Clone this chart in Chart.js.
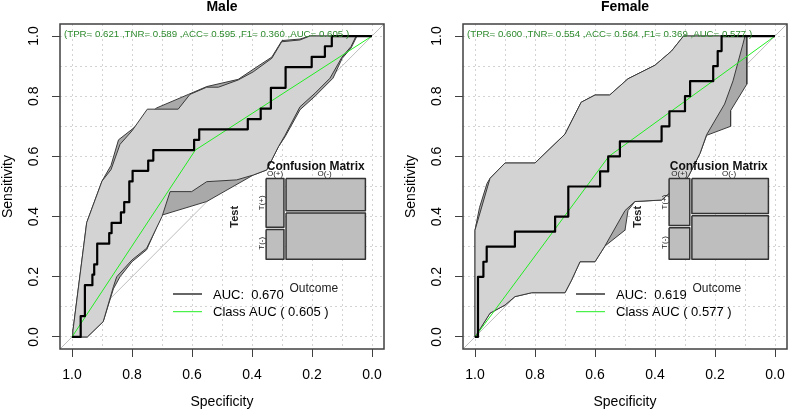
<!DOCTYPE html>
<html>
<head>
<meta charset="utf-8">
<script src="https://cdn.jsdelivr.net/npm/chart.js@4.4.1/dist/chart.umd.min.js"></script>
<style>
  html, body { margin: 0; padding: 0; background: #fff; }
  #wrap { position: relative; width: 789px; height: 411px; }
  canvas { position: absolute; top: 0; }
  #male { left: 0; }
  #female { left: 395px; }
</style>
</head>
<body>
<div id="wrap">
  <canvas id="male" width="395" height="411"></canvas>
  <canvas id="female" width="394" height="411"></canvas>
</div>
<script>
// axis ticks (specificity runs 1 -> 0, sensitivity 0 -> 1)
const gridValues = [0, 0.1, 0.2, 0.3, 0.4, 0.5, 0.6, 0.7, 0.8, 0.9, 1.0];
const labelledValues = [0, 0.2, 0.4, 0.6, 0.8, 1.0];
const statNames = ['TPR', 'TNR', 'ACC', 'F1', 'AUC'];
const chanceLine = [[1.04, -0.04], [-0.04, 1.04]];

// ---- Male ----
const maleStats = [0.621, 0.589, 0.595, 0.360, 0.605];
const maleAuc = 0.670;
const maleConfusion = [18, 11, 53, 76]; // TP, FN, FP, TN
const maleRoc = [[1,0],[0.971,0],[0.971,0.069],[0.957,0.069],[0.957,0.172],[0.932,0.172],[0.932,0.207],
  [0.926,0.207],[0.926,0.241],[0.916,0.241],[0.916,0.310],[0.876,0.310],[0.876,0.345],[0.868,0.345],
  [0.868,0.379],[0.837,0.379],[0.837,0.414],[0.826,0.414],[0.826,0.448],[0.809,0.448],[0.809,0.517],
  [0.798,0.517],[0.798,0.552],[0.746,0.552],[0.746,0.586],[0.729,0.586],[0.729,0.621],[0.593,0.621],
  [0.593,0.655],[0.576,0.655],[0.576,0.690],[0.414,0.690],[0.414,0.724],[0.371,0.724],[0.371,0.759],
  [0.337,0.759],[0.337,0.828],[0.288,0.828],[0.288,0.897],[0.201,0.897],[0.201,0.931],[0.157,0.931],
  [0.157,0.966],[0.134,0.966],[0.134,1],[0,1]];
const maleClassRoc = [[1,0],[0.589,0.621],[0,1]];
const maleBandUpper = [[1,0],[0.997,0.02],[0.951,0.38],[0.90,0.518],[0.87,0.556],[0.84,0.64],[0.80,0.685],
  [0.749,0.757],[0.646,0.757],[0.607,0.806],[0.551,0.83],[0.512,0.83],[0.446,0.854],[0.396,0.881],
  [0.334,0.926],[0.301,0.981],[0.24,0.987],[0.207,1],[0,1]];
const maleBandLower = [[1,0],[0.949,0],[0.896,0.051],[0.862,0.167],[0.851,0.2],[0.80,0.256],[0.751,0.295],
  [0.70,0.40],[0.673,0.483],[0.601,0.483],[0.551,0.516],[0.451,0.522],[0.396,0.538],[0.351,0.555],
  [0.312,0.632],[0.29,0.67],[0.24,0.765],[0.19,0.81],[0.14,0.86],[0.10,0.93],[0.07,0.965],[0.053,1],[0,1]];
const maleOuterUpper = [[1,0],[0.997,0.02],[0.951,0.38],[0.90,0.518],[0.87,0.57],[0.845,0.655],[0.80,0.69],
  [0.718,0.761],[0.612,0.806],[0.551,0.832],[0.446,0.856],[0.38,0.90],[0.334,0.93],[0.30,0.985],
  [0.24,0.99],[0.207,1],[0,1]];
const maleOuterLower = [[1,0],[0.949,0],[0.896,0.051],[0.862,0.16],[0.84,0.2],[0.80,0.25],[0.751,0.29],
  [0.70,0.405],[0.551,0.45],[0.396,0.538],[0.351,0.555],[0.312,0.632],[0.29,0.665],[0.24,0.755],
  [0.19,0.80],[0.13,0.86],[0.10,0.925],[0.07,0.96],[0.05,1],[0,1]];

// ---- Female ----
const femaleStats = [0.600, 0.554, 0.564, 0.369, 0.577];
const femaleAuc = 0.619;
const femaleConfusion = [12, 8, 33, 41]; // TP, FN, FP, TN
const femaleRoc = [[1,0],[0.99,0],[0.99,0.2],[0.972,0.2],[0.972,0.25],[0.961,0.25],[0.961,0.3],[0.867,0.3],
  [0.867,0.35],[0.733,0.35],[0.733,0.4],[0.689,0.4],[0.689,0.5],[0.583,0.5],[0.583,0.55],[0.556,0.55],
  [0.556,0.6],[0.517,0.6],[0.517,0.65],[0.378,0.65],[0.378,0.7],[0.352,0.7],[0.352,0.75],[0.30,0.75],
  [0.30,0.8],[0.283,0.8],[0.283,0.85],[0.206,0.85],[0.206,0.9],[0.191,0.9],[0.191,0.95],[0.178,0.95],
  [0.178,1],[0,1]];
const femaleClassRoc = [[1,0],[0.554,0.6],[0,1]];
const femaleBandUpper = [[1,0],[1,0.355],[0.95,0.527],[0.90,0.578],[0.80,0.578],[0.70,0.674],[0.646,0.78],
  [0.60,0.804],[0.551,0.804],[0.49,0.858],[0.40,0.903],[0.345,0.95],[0.305,1],[0,1]];
const femaleBandLower = [[1,0],[0.95,0.079],[0.90,0.106],[0.867,0.134],[0.811,0.147],[0.70,0.147],
  [0.678,0.189],[0.65,0.25],[0.60,0.25],[0.567,0.302],[0.50,0.42],[0.467,0.45],[0.378,0.455],
  [0.289,0.533],[0.25,0.61],[0.228,0.672],[0.168,0.774],[0.14,0.851],[0.107,0.973],[0.10,1],[0,1]];
const femaleOuterUpper = [[1,0],[1,0.355],[0.985,0.43],[0.96,0.51],[0.95,0.527],[0.90,0.578],[0.80,0.578],
  [0.70,0.674],[0.646,0.78],[0.60,0.804],[0.551,0.804],[0.49,0.858],[0.40,0.903],[0.345,0.95],[0.305,1],[0,1]];
const femaleOuterLower = [[1,0],[0.95,0.079],[0.90,0.106],[0.867,0.134],[0.811,0.147],[0.70,0.147],
  [0.678,0.189],[0.65,0.25],[0.60,0.25],[0.567,0.302],[0.50,0.355],[0.49,0.42],[0.467,0.45],[0.378,0.455],
  [0.289,0.533],[0.25,0.61],[0.228,0.67],[0.148,0.70],[0.148,0.752],[0.094,0.84],[0.094,1],[0,1]];

// where the mosaic sits, in axis units
const mosaicBox = { left: 0.353, right: 0.022, top: 0.527, bottom: 0.258, gapX: 0.007, gapY: 0.0075 };

const FONT = '"Liberation Sans", Arial, sans-serif';
Chart.defaults.font.family = FONT;

const pts = (arr) => arr.map(([x, y]) => ({ x, y }));
const polygon = (upper, lower) => pts(upper.concat(lower.slice().reverse()));
const rect = (x1, x2, y1, y2) => pts([[x1, y1], [x2, y1], [x2, y2], [x1, y2], [x1, y1]]);
const isLabelled = (v) => labelledValues.some(l => Math.abs(l - v) < 1e-9);

function mosaicCells(cm) {
  const [tp, fn, fp, tn] = cm;
  const b = mosaicBox;
  const pos = tp + fn, neg = fp + tn;
  const w = (b.left - b.right) - b.gapX;
  const xSplit = b.left - w * pos / (pos + neg);
  const h = (b.top - b.bottom) - b.gapY;
  const ySplitL = b.top - h * tp / pos;
  const ySplitR = b.top - h * fp / neg;
  return {
    xSplit,
    cells: [
      rect(b.left, xSplit, b.top, ySplitL),
      rect(b.left, xSplit, ySplitL - b.gapY, b.bottom),
      rect(xSplit - b.gapX, b.right, b.top, ySplitR),
      rect(xSplit - b.gapX, b.right, ySplitR - b.gapY, b.bottom)
    ],
    ySplitL
  };
}

const decorPlugin = {
  id: 'decor',
  afterDatasetsDraw(chart, args, o) {
    const { ctx, chartArea: a, scales: { x, y } } = chart;
    ctx.save();
    // plot box
    ctx.strokeStyle = '#404040';
    ctx.lineWidth = 1.5;
    ctx.strokeRect(a.left, a.top, a.right - a.left, a.bottom - a.top);

    // main title
    ctx.fillStyle = '#000';
    ctx.textAlign = 'center';
    ctx.textBaseline = 'middle';
    ctx.font = 'bold 14px ' + FONT;
    ctx.fillText(o.title, (a.left + a.right) / 2, 7.5);

    // y tick labels, rotated like base R
    ctx.font = '14px ' + FONT;
    labelledValues.forEach(v => {
      ctx.save();
      ctx.translate(a.left - 26, y.getPixelForValue(v));
      ctx.rotate(-Math.PI / 2);
      ctx.fillText(v.toFixed(1), 0, 0);
      ctx.restore();
    });

    // metrics line
    const statText = '(' + statNames.map((n, i) => n + '= ' + o.stats[i].toFixed(3)).join(' ,') + ' )';
    ctx.font = '9.7px ' + FONT;
    ctx.fillStyle = '#2e8b2e';
    ctx.textAlign = 'left';
    ctx.fillText(statText, a.left + 4, y.getPixelForValue(1) - 2);

    // legend
    const ly1 = a.bottom - 55, ly2 = a.bottom - 37.3;
    ctx.lineWidth = 2;
    ctx.strokeStyle = '#666';
    ctx.beginPath(); ctx.moveTo(a.left + 113, ly1); ctx.lineTo(a.left + 142, ly1); ctx.stroke();
    ctx.lineWidth = 1;
    ctx.strokeStyle = '#22ee22';
    ctx.beginPath(); ctx.moveTo(a.left + 113, ly2); ctx.lineTo(a.left + 142, ly2); ctx.stroke();
    ctx.fillStyle = '#000';
    ctx.font = '13px ' + FONT;
    ctx.fillText('AUC:  ' + o.auc.toFixed(3), a.left + 153, ly1 + 1);
    ctx.fillText('Class AUC ( ' + o.stats[4].toFixed(3) + ' )', a.left + 153, ly2 + 1);

    // mosaic labels
    const m = mosaicCells(o.confusion);
    const bl = x.getPixelForValue(mosaicBox.left), br = x.getPixelForValue(mosaicBox.right);
    const bt = y.getPixelForValue(mosaicBox.top), bb = y.getPixelForValue(mosaicBox.bottom);
    const xs = x.getPixelForValue(m.xSplit);
    const ysl = y.getPixelForValue(m.ySplitL);
    ctx.textAlign = 'center';
    ctx.fillStyle = '#111';
    ctx.font = 'bold 12px ' + FONT;
    ctx.fillText('Confusion Matrix', (bl + br) / 2, bt - 12);
    ctx.font = '8px ' + FONT;
    ctx.fillStyle = '#222';
    ctx.fillText('O(+)', (bl + xs) / 2, bt - 4.5);
    ctx.fillText('O(-)', (xs + br) / 2, bt - 4.5);
    [['T(+)', (bt + ysl) / 2], ['T(-)', (ysl + bb) / 2]].forEach(([t, yy]) => {
      ctx.save(); ctx.translate(bl - 4.5, yy); ctx.rotate(-Math.PI / 2); ctx.fillText(t, 0, 0); ctx.restore();
    });
    ctx.font = 'bold 11px ' + FONT;
    ctx.save(); ctx.translate(bl - 31, (bt + bb) / 2 - 2); ctx.rotate(-Math.PI / 2); ctx.fillText('Test', 0, 0); ctx.restore();
    ctx.font = '12px ' + FONT;
    ctx.fillText('Outcome', (bl + br) / 2 - 2, bb + 29);
    ctx.restore();
  }
};

function buildChart(id, p) {
  const m = mosaicCells(p.confusion);
  const cellSets = m.cells.map(c => ({
    data: c, fill: 'shape', backgroundColor: '#bebebe', borderColor: '#333', borderWidth: 1.5
  }));
  const datasets = cellSets.concat([
    { data: pts(p.roc), borderColor: '#000', borderWidth: 2.2, fill: false },
    { data: pts(p.classRoc), borderColor: '#22ee22', borderWidth: 1, fill: false },
    { data: polygon(p.bandUpper, p.bandLower), fill: 'shape', backgroundColor: '#d3d3d3', borderColor: '#3a3a3a', borderWidth: 1 },
    { data: polygon(p.outerUpper, p.outerLower), fill: 'shape', backgroundColor: '#a9a9a9', borderColor: '#3a3a3a', borderWidth: 1 },
    { data: pts(chanceLine), borderColor: '#bdbdbd', borderWidth: 1, fill: false }
  ]);
  const axisCommon = {
    type: 'linear', min: -0.04, max: 1.04,
    afterBuildTicks: (s) => { s.ticks = gridValues.map(v => ({ value: v })); },
    grid: {
      color: '#d3d3d3', lineWidth: 1, drawTicks: true, tickLength: 8, tickWidth: 1,
      tickBorderDash: [],
      tickColor: (c) => (c.tick && isLabelled(c.tick.value)) ? '#404040' : 'rgba(0,0,0,0)'
    },
    border: { display: false, dash: [2, 3] }
  };
  return new Chart(document.getElementById(id), {
    type: 'line',
    data: { datasets },
    options: {
      responsive: false,
      animation: false,
      devicePixelRatio: 1,
      layout: { padding: { top: 24, right: p.rightPad, left: 0, bottom: 0 } },
      elements: { point: { radius: 0 }, line: { tension: 0, borderJoinStyle: 'round' } },
      plugins: {
        legend: { display: false },
        tooltip: { enabled: false },
        decor: { title: p.title, stats: p.stats, auc: p.auc, confusion: p.confusion }
      },
      scales: {
        x: Object.assign({}, axisCommon, {
          reverse: true,
          afterFit: (s) => { s.height = 62; },
          ticks: {
            autoSkip: false, maxRotation: 0, padding: 10, color: '#000',
            font: { size: 14 },
            callback: (v) => isLabelled(v) ? Number(v).toFixed(1) : ''
          },
          title: { display: true, text: 'Specificity', color: '#000', font: { size: 14 }, padding: { top: 0, bottom: 0 } }
        }),
        y: Object.assign({}, axisCommon, {
          afterFit: (s) => { s.width = p.yWidth; },
          ticks: { display: false },
          title: { display: true, text: 'Sensitivity', color: '#000', font: { size: 14 }, padding: { top: p.yTitlePad, bottom: 0 } }
        })
      }
    },
    plugins: [decorPlugin]
  });
}

buildChart('male', {
  title: 'Male', stats: maleStats, auc: maleAuc, confusion: maleConfusion,
  roc: maleRoc, classRoc: maleClassRoc,
  bandUpper: maleBandUpper, bandLower: maleBandLower,
  outerUpper: maleOuterUpper, outerLower: maleOuterLower,
  yWidth: 60, rightPad: 11, yTitlePad: 0
});
buildChart('female', {
  title: 'Female', stats: femaleStats, auc: femaleAuc, confusion: femaleConfusion,
  roc: femaleRoc, classRoc: femaleClassRoc,
  bandUpper: femaleBandUpper, bandLower: femaleBandLower,
  outerUpper: femaleOuterUpper, outerLower: femaleOuterLower,
  yWidth: 68, rightPad: 2, yTitlePad: 8
});
</script>
</body>
</html>
